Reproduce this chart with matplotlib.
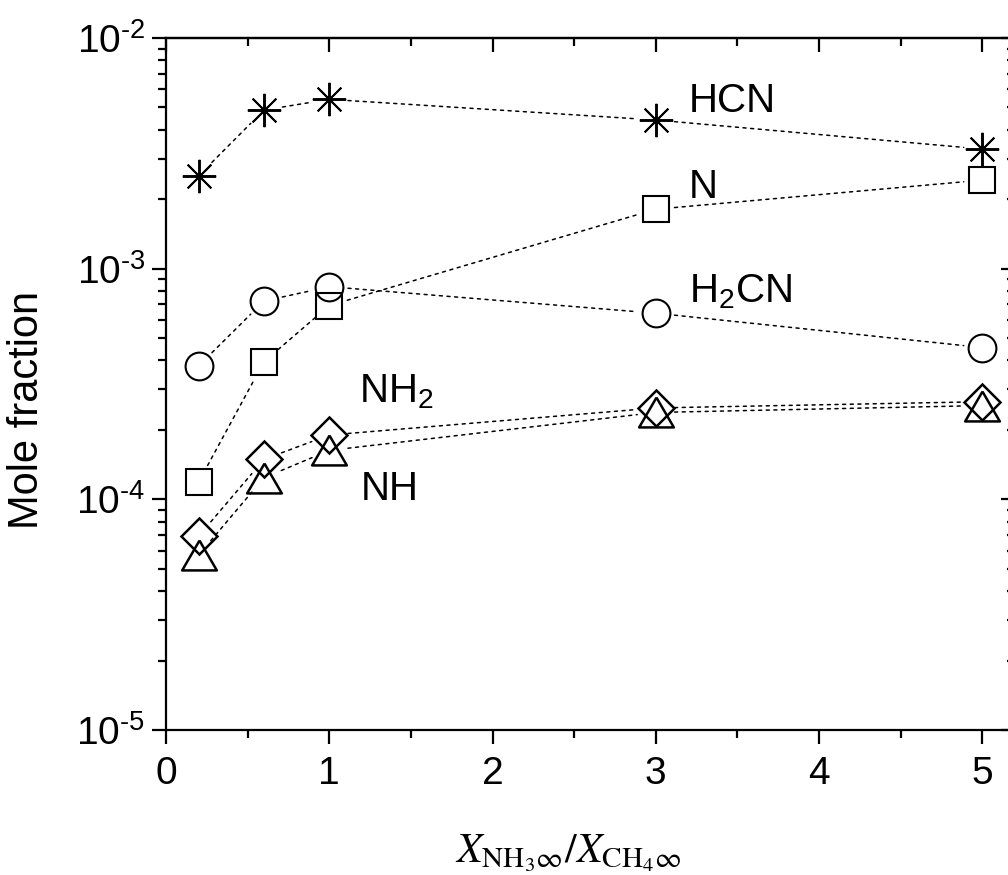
import matplotlib
matplotlib.use('Agg')
import matplotlib.pyplot as plt
from matplotlib.ticker import MultipleLocator, FuncFormatter
import numpy as np

plt.rcParams['font.family'] = ['Liberation Sans', 'DejaVu Sans']
plt.rcParams['mathtext.fontset'] = 'custom'
plt.rcParams['mathtext.rm'] = 'Liberation Sans'
plt.rcParams['mathtext.it'] = 'Liberation Sans:italic'
plt.rcParams['mathtext.bf'] = 'Liberation Sans:bold'

# NH3/CH4 feed ratio
ratio = [0.2, 0.6, 1, 3, 5]

# peak mole fractions of each species
hcn = [2.53e-3, 4.87e-3, 5.42e-3, 4.41e-3, 3.30e-3]
n_atom = [1.19e-4, 3.95e-4, 6.92e-4, 1.81e-3, 2.42e-3]
h2cn = [3.79e-4, 7.24e-4, 8.35e-4, 6.41e-4, 4.55e-4]
nh2 = [6.93e-5, 1.49e-4, 1.90e-4, 2.49e-4, 2.65e-4]
nh = [5.74e-5, 1.24e-4, 1.63e-4, 2.38e-4, 2.55e-4]

species = ['HCN', 'N', r'H$_2$CN', r'NH$_2$', 'NH']
label_pos = [(3.20, 4.78e-3), (3.20, 2.03e-3), (3.20, 7.17e-4),
             (1.18, 2.62e-4), (1.19, 9.94e-5)]

tri = [(0, 0.86), (-1, -0.86), (1, -0.86), (0, 0.86)]
styles = [
    dict(marker=(8, 2, 0), ms=24, mew=1.4),
    dict(marker='s', ms=19, mew=1.5),
    dict(marker='o', ms=20, mew=1.5),
    dict(marker='D', ms=18.3, mew=1.8),
    dict(marker=tri, ms=25, mew=1.8),
]


def decade_label(v, pos):
    # short hyphen in the exponent instead of a minus sign
    e = int(round(np.log10(v)))
    sign = '\u2010' if e < 0 else ''
    return r'$\mathdefault{10^{%s%d}}$' % (sign, abs(e))


fig = plt.figure(figsize=(10.08, 8.75), dpi=100)
ax = fig.add_axes([0.1647, 0.1657, 0.8423, 0.7909])
ax.set_yscale('log')
ax.set_xlim(0, 5.2)
ax.set_ylim(1e-5, 1e-2)
ax.yaxis.set_major_formatter(FuncFormatter(decade_label))

for vals, st in zip([hcn, n_atom, h2cn, nh2, nh], styles):
    ax.plot(ratio, vals, ls='none', mfc='none', mec='black', color='black', **st)
    # dotted connectors that stop short of the symbols
    for i in range(len(ratio) - 1):
        ax.annotate('', xy=(ratio[i + 1], vals[i + 1]), xytext=(ratio[i], vals[i]),
                    arrowprops=dict(arrowstyle='-', shrinkA=13.5, shrinkB=13.5,
                                    lw=1.1, ls=(0, (2, 3)), color='black'))

for name, (tx, ty) in zip(species, label_pos):
    ax.text(tx, ty, name, fontsize=29, ha='left', va='baseline')

for sp in ax.spines.values():
    sp.set_linewidth(1.6)

ax.xaxis.set_major_locator(MultipleLocator(1))
ax.xaxis.set_minor_locator(MultipleLocator(0.5))
ax.tick_params(which='both', direction='out', top=False, right=False,
               width=1.6, labelsize=28)
ax.tick_params(which='major', length=10)
ax.tick_params(which='minor', length=5.8)
ax.tick_params(axis='x', pad=9)
ax.tick_params(axis='y', pad=5)

# inward ticks on the top and right frame
top = ax.secondary_xaxis('top')
top.xaxis.set_major_locator(MultipleLocator(1))
top.xaxis.set_minor_locator(MultipleLocator(0.5))
right = ax.secondary_yaxis('right')
for sec, lab in [(top, dict(labeltop=False)), (right, dict(labelright=False))]:
    sec.tick_params(which='both', direction='in', width=1.6, **lab)
    sec.tick_params(which='major', length=10)
    sec.tick_params(which='minor', length=5.8)
    for sp in sec.spines.values():
        sp.set_linewidth(1.6)

fig.text(27 / 1008, 1 - 410 / 875, 'Mole fraction', rotation=90,
         ha='center', va='center', fontsize=30)
fig.text(568 / 1008, 1 - 862 / 875, r'$X_{\mathrm{NH}_3\infty}/X_{\mathrm{CH}_4\infty}$',
         ha='center', va='baseline', fontsize=30, math_fontfamily='stix')

fig.savefig('out.png', dpi=100)
